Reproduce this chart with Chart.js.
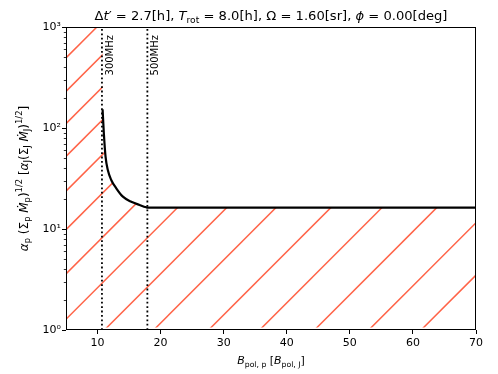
<!DOCTYPE html>
<html>
<head>
<meta charset="utf-8">
<script src="https://cdn.jsdelivr.net/npm/chart.js@4.4.1/dist/chart.umd.min.js"></script>
<style>
  html, body { margin: 0; padding: 0; background: #fff; }
</style>
</head>
<body>
<canvas id="chart" width="498" height="374"></canvas>
<script>
// black curve
const curveX = [10.8, 11.0, 11.27, 11.63, 12.17, 12.97, 14.02, 15.35, 16.67, 17.73, 17.9, 70];
const curveY = [153, 88.6, 52, 38.4, 30.6, 25.3, 20.9, 18.6, 17.3, 16.4, 16.3, 16.3];

// dotted frequency markers
const markerX = [10.7, 17.9];
const markerText = ['300MHz', '500MHz'];

// hatch lines: x where each line meets y = 1, and x-run per decade
const hatchX0 = [-38.1, -32.8, -27.7, -22.5, -17.0, -10.9, -3.9, 3.3, 11.1, 18.9, 27.6, 35.7, 44.4, 53.0, 61.3];
const hatchRun = 16;
const hatchFloor = 1.06;

const xTicks = [10, 20, 30, 40, 50, 60, 70];
const yTicks = [1, 10, 100, 1000];
const yTickText = ['10⁰', '10¹', '10²', '10³'];

const FONT = 'DejaVu Sans';
Chart.defaults.font.family = FONT;
Chart.defaults.color = '#000';

const datasets = [];
datasets.push({
  data: curveX.map((x, i) => ({ x: x, y: curveY[i] })),
  borderColor: '#000', borderWidth: 2.2, pointRadius: 0,
  cubicInterpolationMode: 'monotone'
});
markerX.forEach(x => datasets.push({
  data: [{ x: x, y: 1 }, { x: x, y: 1000 }],
  borderColor: '#000', borderWidth: 1.8, borderDash: [1.8, 2.6], pointRadius: 0
}));
hatchX0.forEach(x0 => datasets.push({
  hatch: true,
  data: [{ x: x0, y: 1 }, { x: x0 + 3 * hatchRun, y: 1000 }],
  borderColor: '#ff6347', borderWidth: 1.5, pointRadius: 0
}));

function fontFor(p, size) {
  const s = p[1] || '';
  const sz = (s.includes('b') || s.includes('p')) ? size * 0.7 : size;
  return (s.includes('i') ? 'italic ' : '') + sz.toFixed(2) + 'px "' + FONT + '"';
}
function drawRich(ctx, parts, size, align) {
  let total = 0;
  const w = parts.map(p => { ctx.font = fontFor(p, size); const m = ctx.measureText(p[0]).width; total += m; return m; });
  let x = align === 'center' ? -total / 2 : 0;
  ctx.textAlign = 'left';
  ctx.textBaseline = 'alphabetic';
  parts.forEach((p, i) => {
    const s = p[1] || '';
    let dy = 0;
    if (s.includes('b')) dy = 0.24 * size;
    if (s.includes('p')) dy = -0.45 * size;
    ctx.font = fontFor(p, size);
    ctx.fillText(p[0], x, dy);
    x += w[i];
  });
}

const titleParts = [['Δ'], ['t', 'i'], ['′'], [' = 2.7[h], '], ['T', 'i'], ['rot', 'b'],
  [' = 8.0[h], Ω = 1.60[sr], '], ['ϕ', 'i'], [' = 0.00[deg]']];
const xLabelParts = [['B', 'i'], ['pol, p', 'b'], [' ['], ['B', 'i'], ['pol, J', 'b'], [']']];
const yLabelParts = [['α', 'i'], ['p', 'b'], [' ('], ['Σ'], ['p', 'b'], [' '], ['Ṁ', 'i'], ['p', 'b'], [')'], ['1/2', 'p'],
  [' ['], ['α', 'i'], ['J', 'b'], ['('], ['Σ'], ['J', 'b'], [' '], ['Ṁ', 'i'], ['J', 'b'], [')'], ['1/2', 'p'], [']']];

const hatchClip = {
  id: 'hatchClip',
  beforeDatasetDraw(chart, args) {
    if (!chart.data.datasets[args.index].hatch) return;
    const ctx = chart.ctx, a = chart.chartArea, ys = chart.scales.y;
    const meta = chart.getDatasetMeta(0);
    meta.dataset.updateControlPoints(a, 'x');
    const pts = meta.data;
    const floor = ys.getPixelForValue(hatchFloor);
    ctx.save();
    ctx.beginPath();
    ctx.moveTo(a.left, floor);
    ctx.lineTo(a.left, a.top);
    ctx.lineTo(pts[0].x, a.top);
    ctx.lineTo(pts[0].x, pts[0].y);
    for (let i = 1; i < pts.length; i++) {
      const p = pts[i - 1], q = pts[i];
      if (p.cp2x !== undefined && q.cp1x !== undefined) ctx.bezierCurveTo(p.cp2x, p.cp2y, q.cp1x, q.cp1y, q.x, q.y);
      else ctx.lineTo(q.x, q.y);
    }
    ctx.lineTo(a.right, floor);
    ctx.closePath();
    ctx.clip();
  },
  afterDatasetDraw(chart, args) {
    if (chart.data.datasets[args.index].hatch) chart.ctx.restore();
  }
};

const decor = {
  id: 'decor',
  afterDraw(chart) {
    const ctx = chart.ctx, a = chart.chartArea, xs = chart.scales.x, ys = chart.scales.y;
    ctx.save();
    ctx.fillStyle = '#000';
    ctx.strokeStyle = '#000';
    // frame
    ctx.lineWidth = 1;
    ctx.strokeRect(a.left + 0.5, a.top + 0.5, a.right - a.left - 1, a.bottom - a.top - 1);
    // minor ticks on y
    ctx.lineWidth = 0.8;
    ctx.beginPath();
    for (let d = 0; d < yTicks.length - 1; d++) {
      for (let k = 2; k < 10; k++) {
        const py = Math.round(ys.getPixelForValue(yTicks[d] * k)) + 0.5;
        ctx.moveTo(a.left, py);
        ctx.lineTo(a.left - 2.2, py);
      }
    }
    ctx.stroke();
    // marker labels
    ctx.font = '10px "' + FONT + '"';
    markerX.forEach((x, i) => {
      ctx.save();
      ctx.translate(xs.getPixelForValue(x) + 3.5, a.top + 8);
      ctx.rotate(-Math.PI / 2);
      ctx.textAlign = 'right';
      ctx.textBaseline = 'top';
      ctx.fillText(markerText[i], 0, 0);
      ctx.restore();
    });
    // title
    ctx.save();
    ctx.translate((a.left + a.right) / 2, 19.5);
    drawRich(ctx, titleParts, 13.1, 'center');
    ctx.restore();
    // x label
    ctx.save();
    ctx.translate((a.left + a.right) / 2, 364);
    drawRich(ctx, xLabelParts, 11, 'center');
    ctx.restore();
    // y label
    ctx.save();
    ctx.translate(27.5, (a.top + a.bottom) / 2);
    ctx.rotate(-Math.PI / 2);
    drawRich(ctx, yLabelParts, 12, 'center');
    ctx.restore();
    ctx.restore();
  }
};

new Chart(document.getElementById('chart'), {
  type: 'line',
  data: { datasets: datasets },
  options: {
    responsive: false,
    animation: false,
    devicePixelRatio: 1,
    events: [],
    layout: { padding: { top: 27, right: 22, left: 0, bottom: 0 } },
    plugins: { legend: { display: false }, tooltip: { enabled: false }, title: { display: false } },
    scales: {
      x: {
        type: 'linear', min: 5, max: 70,
        afterBuildTicks: s => { s.ticks = xTicks.map(v => ({ value: v })); },
        afterFit: s => { s.height = 44; },
        grid: { drawOnChartArea: false, tickLength: 4, tickColor: '#000' },
        border: { display: false },
        ticks: { font: { size: 11 }, color: '#000', padding: 3, maxRotation: 0, autoSkip: false }
      },
      y: {
        type: 'logarithmic', min: 1, max: 1000,
        afterBuildTicks: s => { s.ticks = yTicks.map(v => ({ value: v })); },
        afterFit: s => { s.width = 66; },
        grid: { drawOnChartArea: false, tickLength: 4, tickColor: '#000' },
        border: { display: false },
        ticks: {
          font: { size: 11 }, color: '#000', padding: 1, autoSkip: false,
          callback: v => { const i = yTicks.indexOf(v); return i >= 0 ? yTickText[i] : ''; }
        }
      }
    }
  },
  plugins: [hatchClip, decor]
});
</script>
</body>
</html>
